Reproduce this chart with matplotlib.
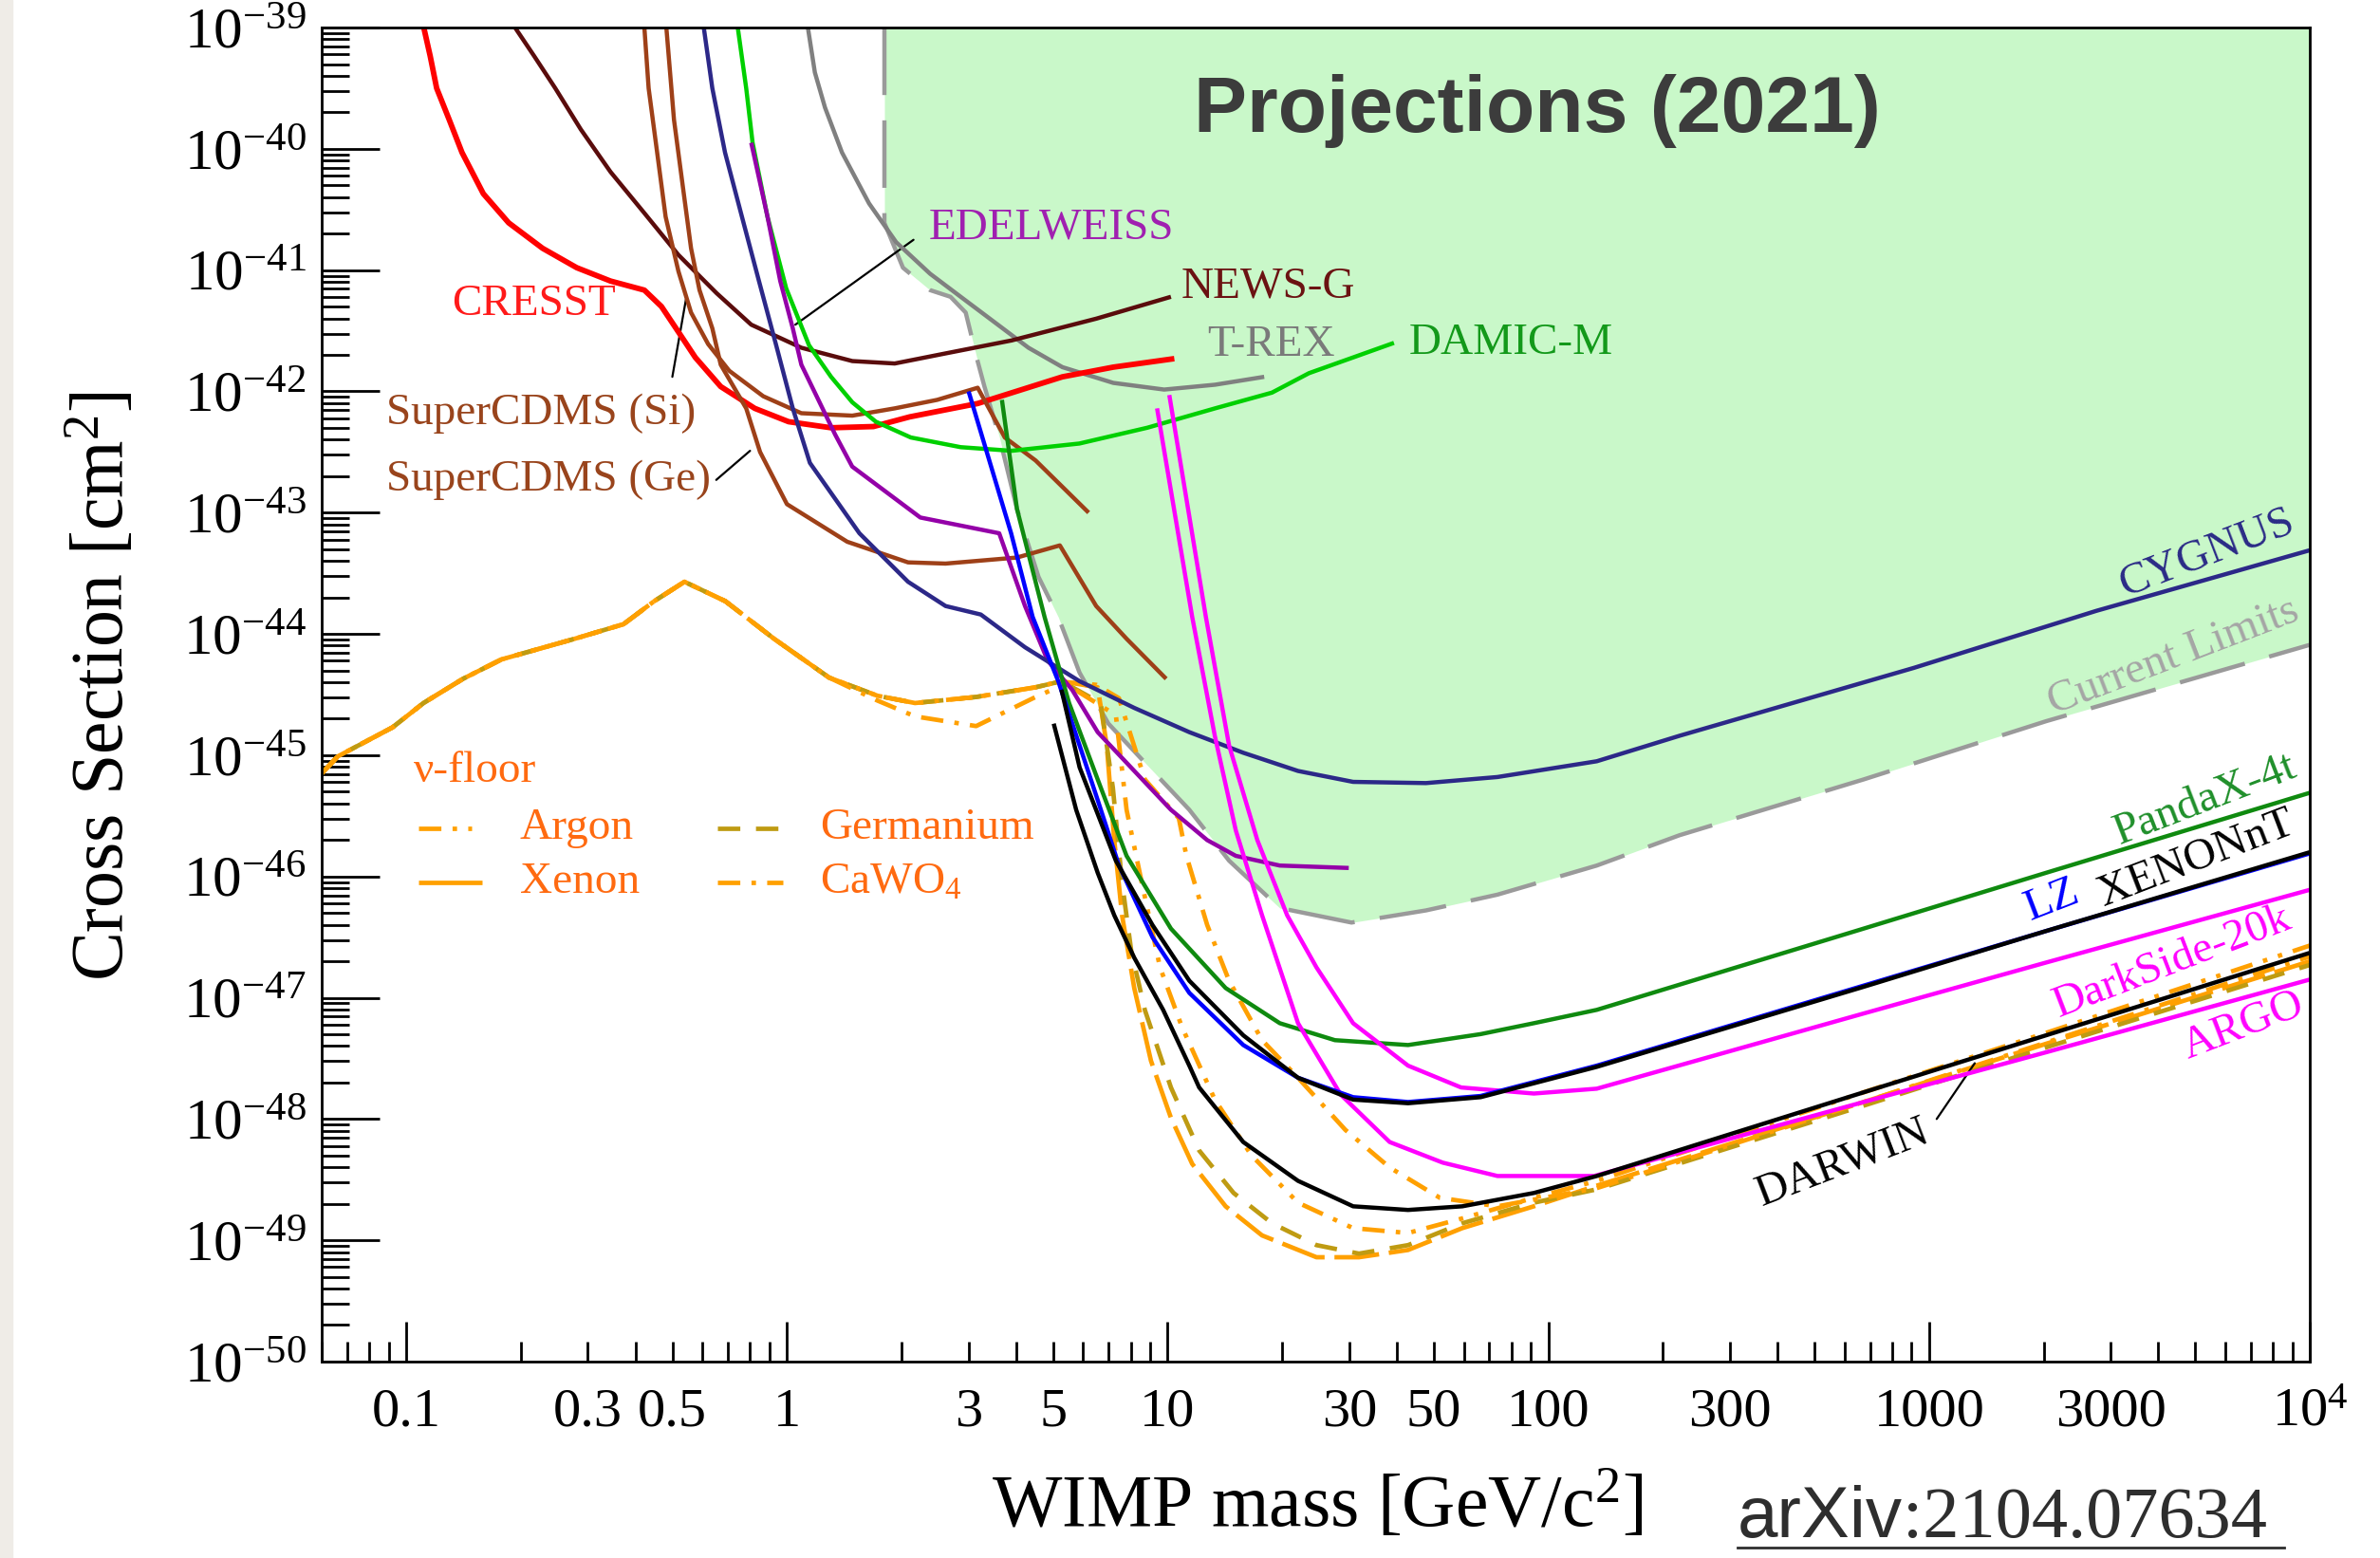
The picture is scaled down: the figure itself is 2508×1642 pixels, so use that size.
import numpy as np
import matplotlib
matplotlib.use("Agg")
import matplotlib.pyplot as plt
from matplotlib.ticker import FixedLocator, FuncFormatter
from matplotlib.patches import Rectangle

plt.rcParams['font.family'] = ['Liberation Serif', 'DejaVu Serif']
plt.rcParams['mathtext.fontset'] = 'custom'
plt.rcParams['mathtext.rm'] = 'Liberation Serif'
plt.rcParams['mathtext.it'] = 'Liberation Serif:italic'
plt.rcParams['mathtext.bf'] = 'Liberation Serif:bold'
plt.rcParams['mathtext.default'] = 'rm'

# ---------------------------------------------------------------------------
# Sensitivity curves: WIMP mass [GeV/c^2] and log10(cross section [cm^2])
# ---------------------------------------------------------------------------
limits_m = [1.803, 1.803, 2.017, 2.377, 2.689, 2.948, 3.168, 3.302, 3.61, 4.02, 4.58, 5.16,
            5.87, 6.99, 8.95, 11.4, 14.5, 19.7, 30.4, 47.7, 73.5, 134, 221, 673, 2028, 10000]
limits_logsig = [-39.0, -40.61, -40.98, -41.165, -41.22, -41.35, -41.75, -41.96, -42.37,
                 -42.97, -43.53, -43.86, -44.32, -44.74, -45.10, -45.45, -45.87, -46.26,
                 -46.38, -46.28, -46.15, -45.91, -45.66, -45.20, -44.72, -44.09]

cresst_m = [0.1112, 0.1156, 0.1202, 0.1297, 0.1401, 0.1594, 0.1858, 0.2281, 0.2804, 0.344,
            0.4222, 0.4681, 0.5188, 0.5745, 0.6698, 0.8231, 1.010, 1.306, 1.687, 2.102,
            3.17, 5.29, 7.20, 10.41]
cresst_logsig = [-39.0, -39.235, -39.50, -39.76, -40.03, -40.37, -40.61, -40.82, -40.98,
                 -41.09, -41.165, -41.30, -41.51, -41.72, -41.96, -42.14, -42.25, -42.30,
                 -42.29, -42.21, -42.10, -41.88, -41.80, -41.73]

newsg_m = [0.1931, 0.2168, 0.2463, 0.2875, 0.344, 0.4222, 0.5188, 0.6534, 0.8058, 1.091,
           1.485, 1.919, 2.580, 3.890, 6.50, 10.2]
newsg_logsig = [-39.0, -39.235, -39.50, -39.84, -40.19, -40.53, -40.875, -41.19, -41.45,
                -41.64, -41.75, -41.77, -41.69, -41.58, -41.40, -41.22]

cdms_si_m = [0.4222, 0.4332, 0.4561, 0.4801, 0.5188, 0.5599, 0.6209, 0.7053, 0.8664,
             1.091, 1.485, 1.919, 2.480, 3.17, 3.734, 4.50, 6.20]
cdms_si_logsig = [-39.0, -39.50, -40.03, -40.56, -41.01, -41.35, -41.61, -41.83, -42.04,
                  -42.18, -42.20, -42.14, -42.07, -41.97, -42.38, -42.57, -43.00]

cdms_ge_m = [0.4822, 0.5050, 0.5317, 0.5599, 0.5893, 0.6368, 0.670, 0.7816, 0.85, 1.00,
             1.44, 2.08, 2.61, 4.02, 5.21, 6.49, 7.80, 9.91]
cdms_ge_logsig = [-39.0, -39.76, -40.29, -40.82, -41.165, -41.48, -41.78, -42.14, -42.50,
                  -42.93, -43.24, -43.41, -43.42, -43.37, -43.27, -43.77, -44.04, -44.37]

edelweiss_m = [0.8058, 0.8891, 0.9603, 1.036, 1.091, 1.184, 1.338, 1.484, 2.24, 3.61, 4.22,
               4.84, 5.61, 6.55, 10.2, 12.7, 15.1, 19.7, 29.9]
edelweiss_logsig = [-39.95, -40.56, -41.09, -41.48, -41.78, -42.01, -42.355, -42.62, -43.04,
                    -43.17, -43.77, -44.22, -44.46, -44.81, -45.45, -45.70, -45.83, -45.91,
                    -45.93]

damic_m = [0.7427, 0.7816, 0.8124, 0.8891, 0.9954, 1.143, 1.306, 1.485, 1.712, 2.115, 2.860,
           3.890, 5.862, 8.834, 13.32, 18.80, 23.5, 39.3]
damic_logsig = [-39.0, -39.50, -39.95, -40.56, -41.15, -41.62, -41.88, -42.09, -42.25,
                -42.38, -42.46, -42.49, -42.43, -42.30, -42.14, -42.01, -41.85, -41.60]

trex_m = [1.135, 1.184, 1.259, 1.395, 1.643, 1.936, 2.377, 2.860, 3.511, 4.309, 5.290,
          7.197, 9.79, 13.32, 17.93]
trex_logsig = [-39.0, -39.37, -39.66, -40.03, -40.45, -40.77, -41.03, -41.22, -41.43, -41.64,
               -41.80, -41.93, -41.985, -41.945, -41.88]

cygnus_m = [0.6047, 0.6368, 0.6876, 0.7617, 0.8443, 0.9352, 1.036, 1.149, 1.55, 2.08, 2.61,
            3.23, 4.22, 5.87, 8.17, 11.4, 15.8, 22.0, 30.7, 47.7, 73.5, 134, 221, 912, 2748,
            10000]
cygnus_logsig = [-39.0, -39.50, -40.03, -40.56, -41.09, -41.61, -42.14, -42.59, -43.17,
                 -43.57, -43.77, -43.84, -44.11, -44.39, -44.61, -44.81, -44.98, -45.13,
                 -45.22, -45.23, -45.18, -45.05, -44.84, -44.28, -43.81, -43.31]

lz_m = [3.00, 3.88, 4.42, 5.16, 6.55, 7.45, 9.12, 11.4, 15.8, 22.0, 30.7, 42.8, 66.4, 134,
        673, 2028, 10000]
lz_logsig = [-42.00, -43.17, -43.86, -44.39, -45.37, -45.91, -46.50, -46.96, -47.39, -47.66,
             -47.82, -47.86, -47.81, -47.56, -46.90, -46.45, -45.81]

xenonnt_m = [5.26, 5.87, 7.31, 9.12, 11.4, 15.8, 22.0, 30.7, 42.8, 66.4, 134, 673, 2028, 10000]
xenonnt_logsig = [-44.46, -45.10, -45.87, -46.40, -46.86, -47.31, -47.66, -47.84, -47.87,
                  -47.82, -47.57, -46.91, -46.45, -45.80]

pandax_m = [3.67, 4.02, 4.75, 5.51, 6.55, 7.80, 10.2, 14.2, 19.7, 27.5, 42.8, 66.4, 91.6,
            134, 673, 2028, 10000]
pandax_logsig = [-42.07, -42.97, -43.86, -44.57, -45.20, -45.83, -46.43, -46.92, -47.21,
                 -47.35, -47.39, -47.30, -47.21, -47.10, -46.43, -45.97, -45.31]

darkside_m = [10.1, 12.6, 14.5, 17.2, 20.6, 24.6, 30.7, 42.8, 59.0, 91.6, 134, 673, 2028, 10000]
darkside_logsig = [-42.03, -43.86, -44.92, -45.70, -46.32, -46.75, -47.21, -47.56, -47.74,
                   -47.79, -47.75, -47.13, -46.71, -46.11]

argo_m = [9.38, 11.6, 13.3, 15.1, 17.7, 22.0, 28.5, 38.3, 52.8, 73.5, 132, 673, 2028, 10000]
argo_logsig = [-42.14, -43.86, -44.84, -45.62, -46.32, -47.21, -47.80, -48.19, -48.36,
               -48.47, -48.47, -47.86, -47.45, -46.85]

darwin_m = [5.02, 5.75, 6.55, 7.24, 8.17, 9.73, 11.4, 12.1, 15.8, 22.0, 30.7, 42.8, 59.4,
            91.6, 134, 673, 2028, 10000]
darwin_logsig = [-44.74, -45.45, -45.97, -46.32, -46.67, -47.10, -47.56, -47.74, -48.19,
                 -48.51, -48.72, -48.75, -48.72, -48.61, -48.47, -47.78, -47.31, -46.63]

# Neutrino floor: common low-mass part plus one high-mass branch per target
floor_low_m = [0.060, 0.0661, 0.0921, 0.111, 0.141, 0.178, 0.277, 0.372, 0.448, 0.538,
               0.689, 0.925, 1.29, 1.73, 2.17, 3.14, 4.50, 5.26]
floor_low_logsig = [-45.15, -45.01, -44.77, -44.57, -44.37, -44.21, -44.04, -43.92, -43.73,
                    -43.57, -43.73, -44.04, -44.36, -44.51, -44.57, -44.52, -44.44, -44.39]

xenon_hi_m = [6.55, 6.92, 7.24, 7.59, 8.17, 9.04, 10.2, 11.6, 14.2, 17.7, 24.6, 31.8, 42.8,
              59.4, 91.6, 134, 673, 2028, 10000]
xenon_hi_logsig = [-44.44, -44.92, -45.70, -46.32, -46.92, -47.52, -47.99, -48.37, -48.72,
                   -48.96, -49.14, -49.14, -49.08, -48.90, -48.72, -48.55, -47.86, -47.38,
                   -46.70]

germanium_hi_m = [6.67, 7.18, 7.59, 8.02, 8.71, 10.2, 12.1, 14.9, 18.8, 24.6, 31.8, 42.8,
                  59.4, 91.6, 134, 673, 2028, 10000]
germanium_hi_logsig = [-44.57, -45.27, -46.05, -46.61, -47.10, -47.74, -48.26, -48.61,
                       -48.86, -49.04, -49.11, -49.04, -48.86, -48.69, -48.58, -47.89,
                       -47.41, -46.73]

argon_hi_m = [7.31, 7.80, 8.55, 9.55, 10.9, 13.3, 16.6, 22.0, 30.7, 42.8, 59.4, 91.6, 134,
              673, 2028, 10000]
argon_hi_logsig = [-44.67, -45.45, -46.05, -46.75, -47.24, -47.84, -48.30, -48.69, -48.90,
                   -48.94, -48.82, -48.65, -48.51, -47.78, -47.29, -46.57]

cawo4_m = [0.060, 0.0661, 0.0921, 0.111, 0.141, 0.178, 0.277, 0.372, 0.448, 0.538, 0.689,
           0.925, 1.29, 1.73, 2.17, 3.14, 4.50, 5.5, 6.5, 7.45, 8.71, 10.7, 11.2, 12.7,
           14.5, 17.7, 22.0, 29.3, 38.3, 51.9, 73.5, 134, 673, 2028, 10000]
cawo4_logsig = [-45.15, -45.01, -44.77, -44.57, -44.37, -44.21, -44.04, -43.92, -43.73,
                -43.57, -43.73, -44.04, -44.36, -44.55, -44.68, -44.76, -44.52, -44.40,
                -44.42, -44.53, -45.20, -45.52, -45.83, -46.40, -46.86, -47.35, -47.66,
                -48.09, -48.40, -48.65, -48.72, -48.57, -47.86, -47.37, -46.66]

x_major = [0.1, 1, 10, 100, 1000, 10000]
x_major_labels = ['0.1', '1', '10', '100', '1000', '$10^4$']
x_minor_labelled = {0.3: '0.3', 0.5: '0.5', 3: '3', 5: '5', 30: '30', 50: '50',
                    300: '300', 3000: '3000'}
y_exponents = list(range(-50, -38))


def sig(values):
    return 10.0 ** np.asarray(values)


# ---------------------------------------------------------------------------
fig = plt.figure(figsize=(25.08, 16.42), dpi=100)
fig.patches.append(Rectangle((0, 0), 13 / 2508, 1, transform=fig.transFigure,
                             color='#efece7', zorder=0))
ax = fig.add_axes([0.1352, 0.1261, 0.8353, 0.8562])
ax.set_xscale('log')
ax.set_yscale('log')
ax.set_xlim(0.06, 1e4)
ax.set_ylim(1e-50, 1e-39)

# Excluded region
ax.fill_between(limits_m, sig(limits_logsig), 1e-39, color='#c9f8c9', lw=0, zorder=1)
ax.plot(limits_m, sig(limits_logsig), color='#9a9a9a', lw=3.2, dashes=(16, 6), zorder=2)

lw = 3.2
floor_c = '#ffa000'
ge_c = '#bf9b12'
ax.plot(floor_low_m + xenon_hi_m, sig(floor_low_logsig + xenon_hi_logsig),
        color=floor_c, lw=3.4, dashes=(10, 2.2), zorder=3)
ax.plot(floor_low_m + germanium_hi_m, sig(floor_low_logsig + germanium_hi_logsig),
        color=ge_c, lw=3.4, dashes=(5, 3.5), zorder=3)
ax.plot(floor_low_m + argon_hi_m, sig(floor_low_logsig + argon_hi_logsig),
        color=floor_c, lw=3.4, dashes=(5, 2.5, 1, 2.5, 1, 2.5), zorder=3)
ax.plot(cawo4_m, sig(cawo4_logsig), color=floor_c, lw=3.4,
        dashes=(5, 2.5, 1, 2.5), zorder=3)

curves = [
    (trex_m, trex_logsig, '#808080'),
    (cresst_m, cresst_logsig, '#ff0000'),
    (newsg_m, newsg_logsig, '#5a0c0c'),
    (cdms_si_m, cdms_si_logsig, '#9e4018'),
    (cdms_ge_m, cdms_ge_logsig, '#9e4018'),
    (damic_m, damic_logsig, '#00d000'),
    (edelweiss_m, edelweiss_logsig, '#9400a8'),
    (cygnus_m, cygnus_logsig, '#2c2888'),
    (pandax_m, pandax_logsig, '#0f8a0f'),
    (darkside_m, darkside_logsig, '#ff00ff'),
    (argo_m, argo_logsig, '#ff00ff'),
    (lz_m, lz_logsig, '#0000ff'),
    (xenonnt_m, xenonnt_logsig, '#000000'),
    (darwin_m, darwin_logsig, '#000000'),
]
for m, ls, c in curves:
    w = 4.2 if c == '#ff0000' else lw
    ax.plot(m, sig(ls), color=c, lw=w, zorder=4, solid_capstyle='butt',
            solid_joinstyle='round')

# Axes, ticks
for s in ax.spines.values():
    s.set_linewidth(2.0)
    s.set_zorder(6)

ax.xaxis.set_major_locator(FixedLocator(x_major))
ax.set_xticklabels(x_major_labels)
minor_x = [k * 10.0 ** d for d in range(-2, 4) for k in range(2, 10)]
minor_x = [v for v in minor_x if 0.06 <= v <= 1e4]
ax.xaxis.set_minor_locator(FixedLocator(minor_x))


def minor_label(v, pos):
    for key, txt in x_minor_labelled.items():
        if abs(v - key) / key < 1e-6:
            return txt
    return ''


ax.xaxis.set_minor_formatter(FuncFormatter(minor_label))

ax.yaxis.set_major_locator(FixedLocator([10.0 ** e for e in y_exponents]))
ax.set_yticklabels(['$10^{%d}$' % e for e in y_exponents])
minor_y = [k * 10.0 ** d for d in range(-50, -39) for k in range(2, 10)]
ax.yaxis.set_minor_locator(FixedLocator(minor_y))
ax.yaxis.set_minor_formatter(FuncFormatter(lambda v, p: ''))

ax.tick_params(axis='x', which='major', direction='in', length=30, width=2,
               labelsize=42, pad=20)
ax.tick_params(axis='x', which='minor', direction='in', length=15, width=2,
               labelsize=42, pad=20)
ax.tick_params(axis='y', which='major', direction='in', length=44, width=2,
               labelsize=44, pad=12)
ax.tick_params(axis='y', which='minor', direction='in', length=21, width=2)

fig.text(0.0435, 0.5597, 'Cross Section [cm$^2$]', rotation=90, ha='center',
         va='center', fontsize=56)
fig.text(0.5534, 0.0329, 'WIMP mass [GeV/c$^2$]', ha='center', va='center', fontsize=56)

# Title
fig.text(0.646, 0.9287, 'Projections (2021)', ha='center', va='center', fontsize=60.5,
         fontweight='bold', family='Liberation Sans', color='#3c3c3c')

# Curve labels
fs = 34
ax.text(0.216, 10 ** -41.28, 'CRESST', color='#ff1a1a', fontsize=fs, ha='center', va='center')
ax.text(0.0887, 10 ** -42.18, 'SuperCDMS (Si)', color='#99441c', fontsize=fs, va='center')
ax.text(0.0887, 10 ** -42.73, 'SuperCDMS (Ge)', color='#99441c', fontsize=fs, va='center')
ax.text(2.36, 10 ** -40.65, 'EDELWEISS', color='#a020b0', fontsize=fs, va='center')
ax.text(10.86, 10 ** -41.14, 'NEWS-G', color='#6b1212', fontsize=fs, va='center')
ax.text(12.7, 10 ** -41.62, 'T-REX', color='#7a7a7a', fontsize=fs, va='center')
ax.text(43.1, 10 ** -41.60, 'DAMIC-M', color='#13991a', fontsize=fs, va='center')

rot = dict(rotation=21, rotation_mode='anchor', ha='center', va='center')
ax.text(5377, 10 ** -43.34, 'CYGNUS', color='#2a2a86', fontsize=fs, **rot)
ax.text(4392, 10 ** -44.19, 'Current Limits', color='#a5a5a5', fontsize=fs, **rot)
ax.text(5327, 10 ** -45.37, 'PandaX-4t', color='#1f8f2a', fontsize=fs, **rot)
ax.text(5041, 10 ** -45.86, 'XENONnT', color='#000000', fontsize=fs, **rot)
ax.text(2106, 10 ** -46.20, 'LZ', color='#0000ff', fontsize=fs, **rot)
ax.text(4352, 10 ** -46.71, 'DarkSide-20k', color='#ff00ff', fontsize=fs, **rot)
ax.text(6704, 10 ** -47.235, 'ARGO', color='#ff00ff', fontsize=fs, **rot)
ax.text(592, 10 ** -48.36, 'DARWIN', color='#000000', fontsize=fs, **rot)

pointer = dict(arrowstyle='-', color='black', lw=1.6, shrinkA=0, shrinkB=0)
ax.annotate('', xy=(1.052, 10 ** -41.45), xytext=(2.15, 10 ** -40.75), arrowprops=pointer)
ax.annotate('', xy=(0.543, 10 ** -41.24), xytext=(0.50, 10 ** -41.88), arrowprops=pointer)
ax.annotate('', xy=(0.80, 10 ** -42.49), xytext=(0.652, 10 ** -42.73), arrowprops=pointer)
ax.annotate('', xy=(1318, 10 ** -47.54), xytext=(1047, 10 ** -48.0), arrowprops=pointer)

# Neutrino-floor key
key_c = '#ff6a10'
ax.text(0.1047, 10 ** -45.13, 'ν-floor', color=key_c, fontsize=fs, va='center')
ax.text(0.199, 10 ** -45.60, 'Argon', color=key_c, fontsize=fs, va='center')
ax.text(0.199, 10 ** -46.05, 'Xenon', color=key_c, fontsize=fs, va='center')
ax.text(1.218, 10 ** -45.60, 'Germanium', color=key_c, fontsize=fs, va='center')
ax.text(1.218, 10 ** -46.05, 'CaWO$_4$', color=key_c, fontsize=fs, va='center')
ax.plot([0.1076, 0.1486], [10 ** -45.60] * 2, color=floor_c, lw=3.4,
        dashes=(5, 2.5, 1, 2.5, 1, 2.5))
ax.plot([0.1076, 0.1583], [10 ** -46.05] * 2, color=floor_c, lw=3.4, solid_capstyle='butt')
ax.plot([0.658, 0.977], [10 ** -45.60] * 2, color=ge_c, lw=3.4, dashes=(5, 3.5))
ax.plot([0.658, 0.977], [10 ** -46.05] * 2, color=floor_c, lw=3.4, dashes=(5, 2.5, 1, 2.5))

# Reference
fig.text(1831 / 2508, 0.0134, 'arXiv', family='Liberation Sans', fontsize=55,
         color='#2e2e2e', ha='left', va='baseline')
fig.text(2005 / 2508, 0.0134, ':2104.07634', fontsize=55, color='#2e2e2e',
         ha='left', va='baseline')
fig.add_artist(plt.Line2D([1831 / 2508, 2407 / 2508], [0.0067, 0.0067],
                          transform=fig.transFigure, color='#2e2e2e', lw=2))

fig.savefig('out.png', dpi=100)
